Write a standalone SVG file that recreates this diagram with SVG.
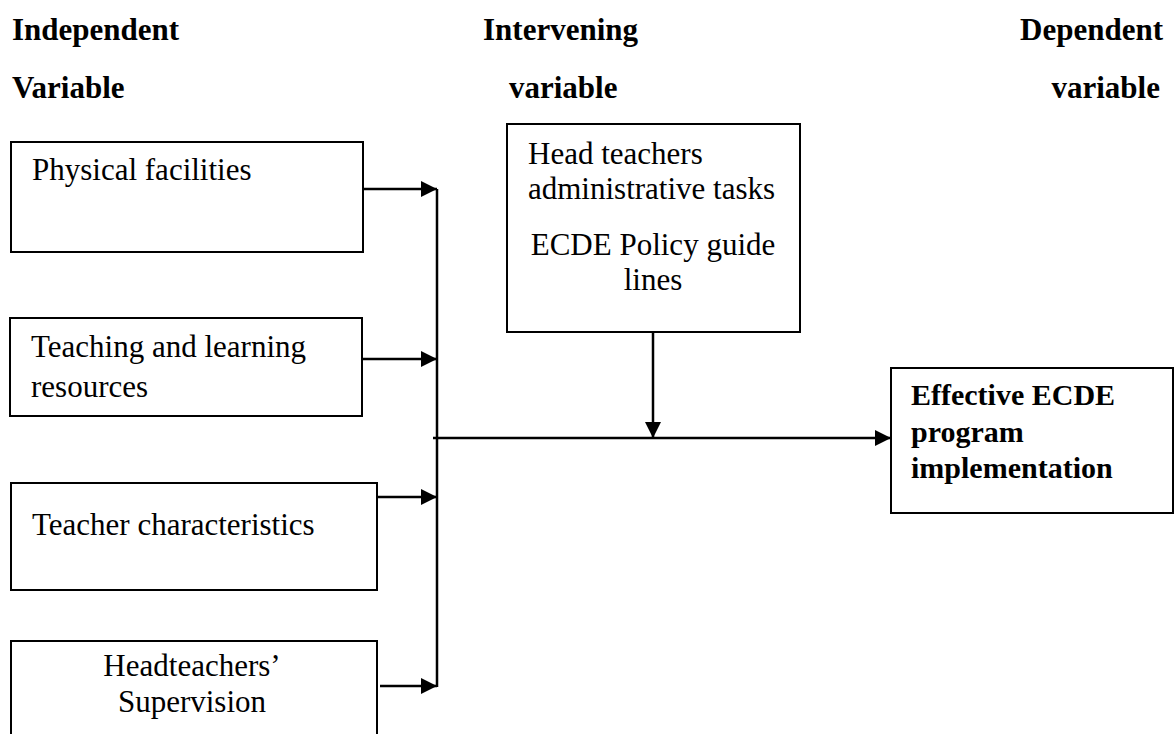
<svg xmlns="http://www.w3.org/2000/svg" width="1175" height="734" viewBox="0 0 1175 734">
<style>
  .hdr { font-family: "Liberation Serif", "Times New Roman", serif; font-size: 31px; font-weight: bold; fill: #000; }
  .txt { font-family: "Liberation Serif", "Times New Roman", serif; font-size: 31px; fill: #000; }
  .btxt { font-family: "Liberation Serif", "Times New Roman", serif; font-size: 30px; font-weight: bold; fill: #000; }
  .box { fill: #fff; stroke: #000; stroke-width: 2; }
  .conn { stroke: #000; stroke-width: 2.5; fill: none; }
</style>
<defs>
  <marker id="arr" markerUnits="userSpaceOnUse" markerWidth="18" markerHeight="18" refX="16" refY="8" orient="auto">
    <path d="M0,0 L16,8 L0,16 z" fill="#000"/>
  </marker>
</defs>
<rect width="1175" height="734" fill="#fff"/>

<g id="headers">
  <text class="hdr" x="12" y="40">Independent</text>
  <text class="hdr" x="483" y="40">Intervening</text>
  <text class="hdr" x="1163" y="40" text-anchor="end">Dependent</text>
  <text class="hdr" x="12" y="98">Variable</text>
  <text class="hdr" x="509" y="98">variable</text>
  <text class="hdr" x="1160" y="98" text-anchor="end">variable</text>
</g>

<g id="node-physical">
  <rect class="box" x="11" y="142" width="352" height="110"/>
  <text class="txt" x="32" y="180">Physical facilities</text>
</g>

<g id="node-teaching">
  <rect class="box" x="10" y="318" width="352" height="98"/>
  <text class="txt" x="31" y="357">Teaching and learning</text>
  <text class="txt" x="31" y="397">resources</text>
</g>

<g id="node-teacher">
  <rect class="box" x="11" y="483" width="366" height="107"/>
  <text class="txt" x="32" y="535">Teacher characteristics</text>
</g>

<g id="node-headteachers">
  <rect class="box" x="11" y="641" width="366" height="110"/>
  <text class="txt" x="192" y="676" text-anchor="middle">Headteachers’</text>
  <text class="txt" x="192" y="712" text-anchor="middle">Supervision</text>
</g>

<g id="node-intervening">
  <rect class="box" x="507" y="124" width="293" height="208"/>
  <text class="txt" x="528" y="164">Head teachers</text>
  <text class="txt" x="528" y="199">administrative tasks</text>
  <text class="txt" x="653" y="255" text-anchor="middle">ECDE Policy guide</text>
  <text class="txt" x="653" y="290" text-anchor="middle">lines</text>
</g>

<g id="node-effective">
  <rect class="box" x="891" y="368" width="282" height="145"/>
  <text class="btxt" x="911" y="405">Effective ECDE</text>
  <text class="btxt" x="911" y="442">program</text>
  <text class="btxt" x="911" y="478">implementation</text>
</g>

<g id="connectors">
  <line class="conn" x1="363" y1="189" x2="437" y2="189" marker-end="url(#arr)"/>
  <line class="conn" x1="362" y1="359" x2="437" y2="359" marker-end="url(#arr)"/>
  <line class="conn" x1="377" y1="497" x2="437" y2="497" marker-end="url(#arr)"/>
  <line class="conn" x1="380" y1="686" x2="437" y2="686" marker-end="url(#arr)"/>
  <line class="conn" x1="437" y1="189" x2="437" y2="687"/>
  <line class="conn" x1="433" y1="438" x2="891" y2="438" marker-end="url(#arr)"/>
  <line class="conn" x1="653" y1="332" x2="653" y2="438" marker-end="url(#arr)"/>
</g>
</svg>
